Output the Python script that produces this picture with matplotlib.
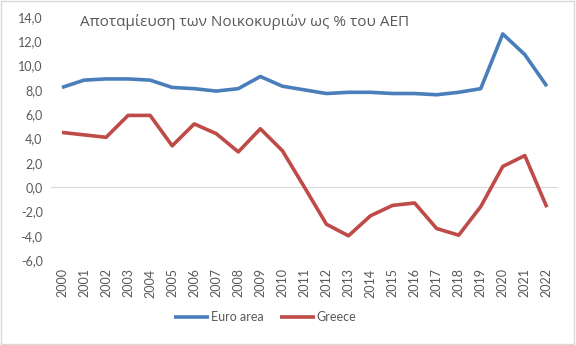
import matplotlib.pyplot as plt
from matplotlib.patches import Rectangle

# Data
years = [str(y) for y in range(2000, 2023)]
euro_area = [8.2, 8.8, 8.9, 8.9, 8.8, 8.2, 8.1, 7.9, 8.1, 9.1, 8.3, 8.0, 7.7,
             7.8, 7.8, 7.7, 7.7, 7.6, 7.8, 8.1, 12.6, 10.9, 8.3]
greece = [4.5, 4.3, 4.1, 5.9, 5.9, 3.4, 5.2, 4.4, 2.9, 4.8, 3.0, 0.0, -3.05,
          -4.0, -2.35, -1.5, -1.3, -3.4, -3.95, -1.6, 1.7, 2.6, -1.65]
yticks = [-6, -4, -2, 0, 2, 4, 6, 8, 10, 12, 14]
title = "Αποταμίευση των Νοικοκυριών ως % του ΑΕΠ"

plt.rcParams['font.family'] = ['Lato', 'Open Sans', 'DejaVu Sans']
grey = "#595959"

fig = plt.figure(figsize=(5.76, 3.45), dpi=100)
ax = fig.add_axes([0.0885, 0.246, 0.88, 0.705])

x = list(range(len(years)))
ax.plot(x, euro_area, color="#4A7EBB", lw=2.6, label="Euro area", solid_capstyle="butt")
ax.plot(x, greece, color="#BE4B48", lw=2.6, label="Greece", solid_capstyle="butt")

ax.axhline(0, color="#D9D9D9", lw=0.8, zorder=0)
ax.set_xlim(-0.5, len(years) - 0.5)
ax.set_ylim(-6, 14)
ax.set_yticks(yticks)
ax.set_yticklabels([f"{v:.1f}".replace(".", ",") for v in yticks], color=grey, fontsize=9)
ax.set_xticks(x)
ax.set_xticklabels(years, rotation=90, color=grey, fontsize=9)
ax.tick_params(length=0, pad=6)
for s in ax.spines.values():
    s.set_visible(False)

ax.text(0.058, 1.01, title, transform=ax.transAxes, fontsize=11, color=grey,
        va="top", ha="left", family="Open Sans")

fig.legend(loc="lower center", bbox_to_anchor=(0.46, 0.03), ncol=2, frameon=False,
           fontsize=9, handlelength=2.8, handletextpad=0.15, columnspacing=1.3,
           labelcolor=grey)

fig.patches.append(Rectangle((0.002, 0.003), 0.995, 0.994, transform=fig.transFigure,
                             fill=False, edgecolor="#D9D9D9", lw=1))

fig.savefig("out.png", dpi=100)
